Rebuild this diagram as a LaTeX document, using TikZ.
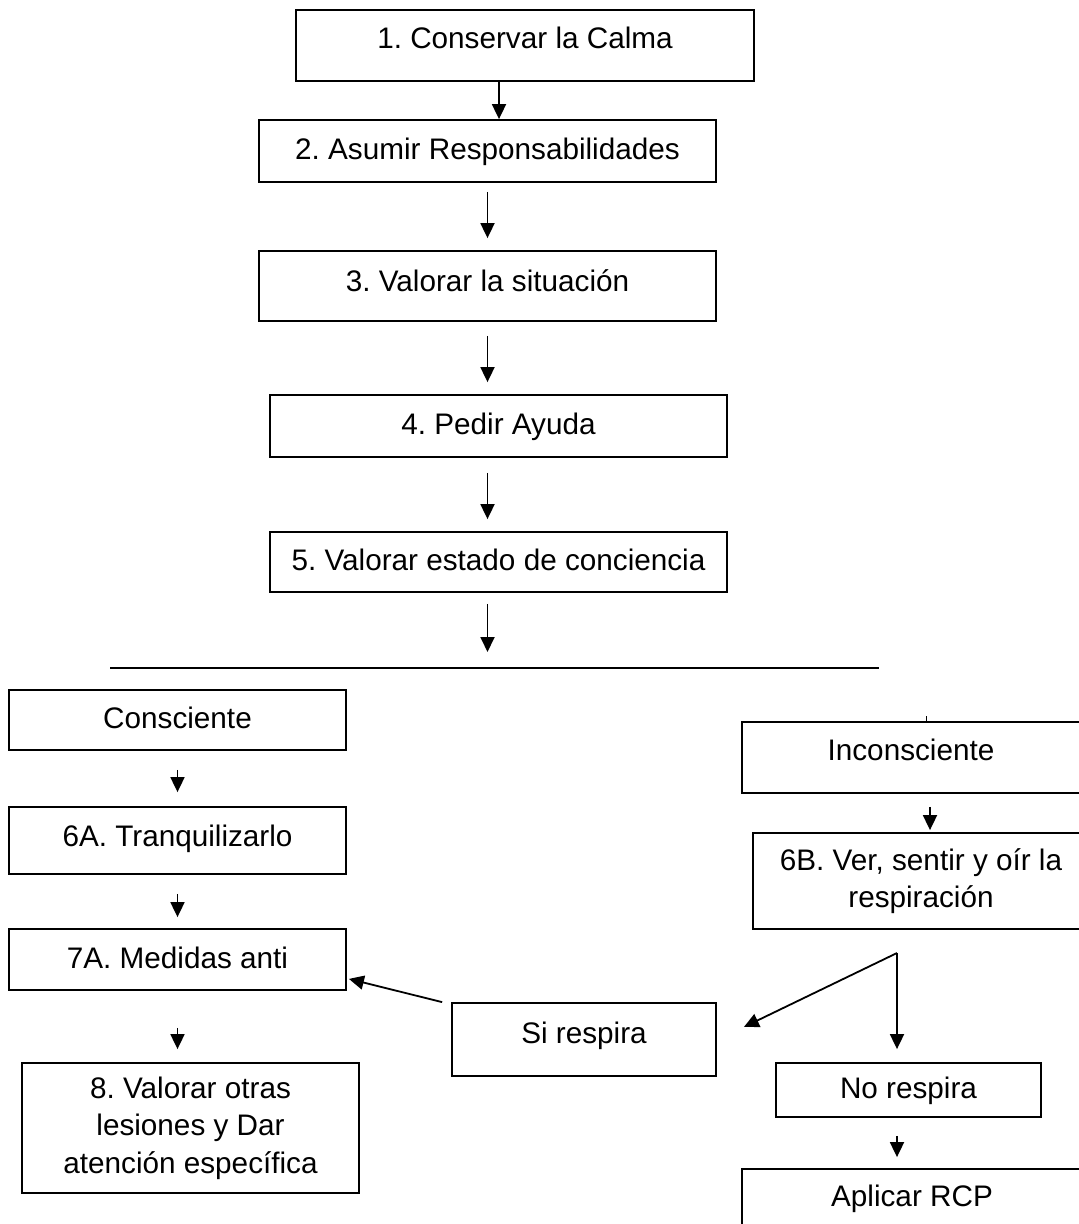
\documentclass[tikz,border=0pt]{standalone}
\usepackage{fontspec}
\setmainfont{Liberation Sans}
\usetikzlibrary{arrows.meta,positioning,calc}
\frenchspacing

\begin{document}
\begin{tikzpicture}[x=1pt, y=-1pt,
    caja/.style={rectangle, draw=black, line width=1.8pt, align=center,
                 font=\fontsize{29.7}{37.5}\selectfont, inner sep=0pt},
    linea/.style={caja, text height=21pt, text depth=#1},
    linea/.default=4pt,
    flecha/.style={-{Triangle[length=15pt, width=14pt]}, line width=1.8pt}
]
    \useasboundingbox (0,0) rectangle (1079,1224);

    % Pasos principales
    \node[linea=15pt, minimum width=458pt, minimum height=71pt] (b1) at (525,45.5) {1. Conservar la Calma};
    \node[linea, minimum width=457pt, minimum height=62pt] (b2) at (487.5,151) {2. Asumir Responsabilidades};
    \node[linea=10pt, minimum width=457pt, minimum height=70pt] (b3) at (487.5,286) {3. Valorar la situación};
    \node[linea, minimum width=457pt, minimum height=62pt] (b4) at (498.5,426) {4. Pedir Ayuda};
    \node[linea, minimum width=457pt, minimum height=60pt] (b5) at (498.5,562) {5. Valorar estado de conciencia};

    % Separador
    \coordinate (rl) at (110,668);
    \coordinate (rr) at (879,668);
    \draw[line width=1.8pt] (rl) -- (rr);

    % Rama consciente
    \node[linea, minimum width=337pt, minimum height=60pt] (con) at (177.5,720) {Consciente};
    \node[linea=10pt, minimum width=337pt, minimum height=67pt] (a6) at (177.5,840.5) {6A. Tranquilizarlo};
    \node[linea, minimum width=337pt, minimum height=61pt] (a7) at (177.5,959.5) {7A. Medidas anti};
    \node[caja, minimum width=337pt, minimum height=130pt] (a8) at (190.5,1128) {8. Valorar otras\\lesiones y Dar\\atención específica};

    % Rama inconsciente
    \node[linea=15pt, minimum width=338pt, minimum height=71pt] (inc) at (911,757.5) {Inconsciente};
    \node[caja, minimum width=336pt, minimum height=96pt] (b6b) at (921,881) {6B. Ver, sentir y oír la\\respiración};
    \node[linea=13pt, minimum width=264pt, minimum height=73pt] (sir) at (584,1039.5) {Si respira};
    \node[linea, minimum width=265pt, minimum height=54pt] (nor) at (908.5,1090) {No respira};
    \node[linea, minimum width=340pt, minimum height=58pt] (rcp) at (912,1198) {Aplicar RCP};
    \coordinate (ram) at (897,953);

    % Conexiones
    \draw[flecha] ([xshift=-26pt]b1.south) -- ([xshift=-26pt]b1.south |- b2.north);
    \draw[flecha, shorten <=9pt, shorten >=12pt] (b2.south) -- (b3.north);
    \draw[flecha, shorten <=14pt, shorten >=12pt] (b3.south) -- (b3.south |- b4.north);
    \draw[flecha, shorten <=15pt, shorten >=12pt] (b4.south -| b3.south) -- (b5.north -| b3.south);
    \draw[flecha, shorten <=11pt, shorten >=16pt] (b5.south -| b3.south) -- (b3.south |- rl);
    \foreach \a/\b/\s/\e in {con/a6/19/14, a6/a7/19/11}
        \draw[flecha, shorten <=\s pt, shorten >=\e pt] (\a.south) -- (\b.north);
    \draw[flecha, shorten <=37pt, shorten >=13pt] (a7.south) -- (a7.south |- a8.north);

    \draw[line width=1pt] ([xshift=15pt]inc.north) -- ++(0,-5);
    \draw[flecha, shorten <=13pt, shorten >=2pt] ([xshift=9pt]b6b.north |- inc.south) -- ([xshift=9pt]b6b.north);
    \draw[flecha] (ram) -- ([xshift=27pt, yshift=12.5pt]sir.east);
    \draw[flecha, shorten >=13pt] (ram) -- (ram |- nor.north);
    \draw[flecha] ([xshift=-9pt]sir.north west) -- ([xshift=2pt, yshift=12pt]a7.south east);
    \draw[flecha, shorten <=18pt, shorten >=11pt] (nor.south -| ram) -- (rcp.north -| ram);
\end{tikzpicture}
\end{document}
